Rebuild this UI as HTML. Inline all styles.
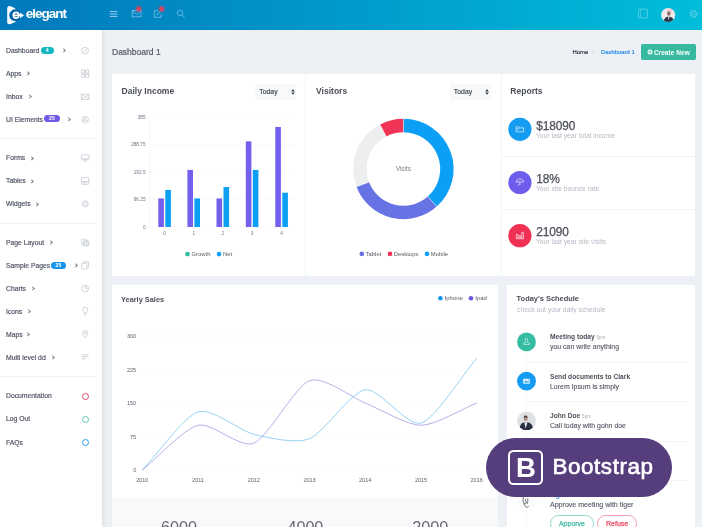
<!DOCTYPE html>
<html lang="en">
<head>
<meta charset="utf-8">
<title>Elegant Admin - Dashboard 1</title>
<style>
*{box-sizing:border-box;margin:0;padding:0}
html,body{width:702px;height:527px;overflow:hidden}
body{position:relative;background:#edf1f5;font-family:"Liberation Sans",sans-serif;color:#4f5467;font-size:7px;line-height:1}
.abs{position:absolute}
/* header */
#topbar{position:absolute;left:0;top:0;width:702px;height:30px;background:linear-gradient(to right,#0178bc 0%,#00bdda 100%);z-index:5}
#logo-text{position:absolute;left:25.7px;top:6.2px;font-size:13.5px;font-weight:bold;color:#fff;letter-spacing:-1px;line-height:16px}
/* sidebar */
#sidebar{position:absolute;left:0;top:30px;width:102px;height:497px;background:#fff;box-shadow:1px 0 4px rgba(90,100,115,.16);z-index:4}
.mi{position:absolute;left:6px;font-size:6.8px;line-height:10px;color:#4a4f60;white-space:nowrap;height:10px;-webkit-text-stroke:.15px #4a4f60}
.car{position:absolute;width:3.4px;height:3.4px;border-right:.8px solid #7d8594;border-top:.8px solid #7d8594;transform:rotate(45deg)}
.badge{position:absolute;font-size:5.2px;font-weight:bold;color:#fff;border-radius:3.6px;height:7.2px;line-height:7.2px;text-align:center}
.sdiv{position:absolute;left:0;width:96px;height:1px;background:#f0f2f5}
.sico{position:absolute;left:80px;width:10px;height:10px}
.ring{position:absolute;left:81.9px;width:7.2px;height:7.2px;border-radius:50%;border:1.4px solid #000}
/* content */
#ptitle{position:absolute;left:112px;top:46px;font-size:8.5px;line-height:12px;color:#565a64;-webkit-text-stroke:.2px #565a64}
.crumb{position:absolute;top:48px;font-size:5.9px;line-height:8px;-webkit-text-stroke:.2px}
#btn-new{position:absolute;left:640.7px;top:44px;width:55.2px;height:16.4px;border-radius:2px;background:#37b9a0;color:#fff;font-size:6.5px;font-weight:bold;line-height:17px;white-space:nowrap;padding-left:13.2px;letter-spacing:.05px}
#btn-new svg{left:6px;top:5.1px}
.ob{position:absolute;top:514.5px;height:17px;border-radius:8.5px;border:.8px solid;font-size:7px;line-height:16px;text-align:center;background:#fff;-webkit-text-stroke:.25px}
.card{position:absolute;background:#fff}
.ctitle{position:absolute;font-size:8.55px;font-weight:bold;color:#4b4f59;line-height:11px;white-space:nowrap}
.sel{position:absolute;width:41.2px;height:16px;background:#f8f9fa;border-radius:1.5px;font-size:6.9px;line-height:15.6px;color:#3c3f49;padding-left:4.2px;-webkit-text-stroke:.15px #3c3f49}
.sel svg{left:35.9px;top:5.3px}
.vdiv{position:absolute;width:1px;background:#f3f5f8}
.hdiv{position:absolute;height:1px;background:#f1f3f6}
svg{position:absolute;overflow:visible}
svg text{font-family:"Liberation Sans",sans-serif}
.rc{position:absolute;left:508px;width:23px;height:23px;border-radius:50%}
.rnum{position:absolute;left:536.2px;letter-spacing:-.1px;font-size:11.9px;line-height:14px;color:#4b4f59;-webkit-text-stroke:.25px #4b4f59;white-space:nowrap}
.rsub{position:absolute;left:536px;font-size:6.72px;line-height:8px;color:#b4bac4;white-space:nowrap}
.sc{position:absolute;left:517px;width:19px;height:19px;border-radius:50%}
.st{position:absolute;left:550px;font-size:6.65px;font-weight:bold;line-height:9px;color:#4c505a;white-space:nowrap}
.st small{font-size:4.6px;font-weight:normal;color:#a9afba}
.ss{position:absolute;left:550px;font-size:6.95px;line-height:9px;color:#555964;-webkit-text-stroke:.12px #555964;white-space:nowrap}
.big{position:absolute;top:518.1px;width:60px;text-align:center;font-size:16.2px;line-height:18px;color:#66686e;letter-spacing:-.05px}
#bs{position:absolute;left:486px;top:438px;width:186px;height:59px;border-radius:29.5px;background:#563d7c;z-index:9}
#bs .box{position:absolute;left:21.9px;top:12.4px;width:34.8px;height:34.4px;border:2.2px solid #fff;border-radius:5.5px;color:#fff;font-weight:bold;font-size:27.6px;line-height:32.2px;text-align:center;padding-left:1.4px}
#bs .txt{position:absolute;left:66.4px;top:15.5px;color:#fff;font-size:22.4px;line-height:25px;letter-spacing:.6px;white-space:nowrap;-webkit-text-stroke:.65px #fff}
</style>
</head>
<body>
<!-- HEADER -->
<div id="topbar">
  <svg style="left:0;top:0" width="702" height="30" viewBox="0 0 702 30">
    <!-- logo mark -->
    <circle cx="15.1" cy="15.2" r="5.8" fill="#04559b" fill-opacity=".55"/>
    <path d="M9.6,6 C8.2,6 7.2,6.9 7.2,8.4 L7.2,22 C7.2,23.6 8.4,24.5 9.9,24.2 C11.4,23.9 14.4,22.6 16.2,21 A5.9,5.9 0 1 1 16.2,9.4 C14.4,8 11.6,6.3 9.6,6 Z" fill="#fff"/>
    <path d="M18.5,17 C17.9,17.7 17.1,18 16.1,18 C14.5,18 13.4,16.8 13.4,15.2 C13.4,13.6 14.5,12.4 16.1,12.4 C17.6,12.4 18.7,13.4 18.8,14.9" fill="none" stroke="#fff" stroke-width="1.8" stroke-linecap="round"/>
    <path d="M14.2,15.4 L21,15.4" fill="none" stroke="#fff" stroke-width="1.6" stroke-linecap="round"/>
    <path d="M20.4,13.1 L23.7,15.4 L20.4,17.7 Z" fill="#fff" stroke="#fff" stroke-width=".5" stroke-linejoin="round"/>
    <!-- hamburger -->
    <path d="M109.8,11.6h7.6M109.8,14h7.6M109.8,16.4h7.6" stroke="#a8d8f2" stroke-width="0.9" fill="none"/>
    <!-- mail -->
    <rect x="132.2" y="10.6" width="8.8" height="6.2" fill="none" stroke="#7ec4e8" stroke-width="0.8"/>
    <path d="M132.4,10.9 L136.6,14.3 L140.8,10.9" fill="none" stroke="#7ec4e8" stroke-width="0.8"/>
    <circle cx="138.7" cy="8.9" r="3.5" fill="#e8405c" fill-opacity=".4"/><circle cx="138.7" cy="8.9" r="2.2" fill="#ea3c58" fill-opacity=".85"/>
    <!-- note -->
    <path d="M158.2,10.8 H154.3 V17.3 H161.2 V14" fill="none" stroke="#7ec4e8" stroke-width="0.8"/>
    <path d="M156.6,15.2 L160.6,10.8" fill="none" stroke="#7ec4e8" stroke-width="0.9"/>
    <circle cx="161.6" cy="8.9" r="3.5" fill="#e8405c" fill-opacity=".4"/><circle cx="161.6" cy="8.9" r="2.2" fill="#ea3c58" fill-opacity=".85"/>
    <!-- search -->
    <circle cx="180" cy="12.9" r="2.7" fill="none" stroke="#74bfe6" stroke-width="0.8"/>
    <path d="M182,15 L184.6,17.4" stroke="#74bfe6" stroke-width="0.9" fill="none"/>
    <!-- right: layout icon -->
    <rect x="638.4" y="9.2" width="9" height="8.6" rx="0.8" fill="none" stroke="#66d3e9" stroke-width="0.8"/>
    <path d="M640.6,9.2V17.8" stroke="#66d3e9" stroke-width="0.6" fill="none"/>
    <!-- avatar -->
    <clipPath id="av1"><circle cx="668.2" cy="15" r="7"/></clipPath>
    <circle cx="668.2" cy="15" r="7.1" fill="#f1e9ec"/>
    <g clip-path="url(#av1)">
      <ellipse cx="669.4" cy="11" rx="2.6" ry="2" fill="#f3c9cf"/>
      <ellipse cx="668.8" cy="13.6" rx="1.7" ry="2.2" fill="#8d6a66"/>
      <path d="M663.6,23 C663.8,18.4 665.6,16.6 668.6,16.4 C671.8,16.6 673.6,18.2 674,23 Z" fill="#2b3347"/>
      <path d="M668,16.6 L668.7,20.5 L669.6,16.6 Z" fill="#e9e9ee"/>
    </g>
    <!-- gear -->
    <circle cx="693.6" cy="13.9" r="3.4" fill="none" stroke="#5fd0e7" stroke-width="1.4" stroke-dasharray="1.5 1.17"/>
    <circle cx="693.6" cy="13.9" r="2.7" fill="none" stroke="#5fd0e7" stroke-width="0.7"/>
    <circle cx="693.6" cy="13.9" r="1.1" fill="none" stroke="#5fd0e7" stroke-width="0.6"/>
  </svg>
  <div id="logo-text">elegant</div>
</div>

<!-- SIDEBAR -->
<div id="sidebar">
  <div class="mi" style="top:16.1px">Dashboard</div><div class="badge" style="left:40.7px;top:16.6px;width:12.9px;background:#14b8c2">4</div><div class="car" style="left:61.5px;top:19.2px"></div>
  <div class="mi" style="top:39.0px">Apps</div><div class="car" style="left:25.9px;top:42.1px"></div>
  <div class="mi" style="top:61.9px">Inbox</div><div class="car" style="left:27.6px;top:65.0px"></div>
  <div class="mi" style="top:84.8px">UI Elements</div><div class="badge" style="left:44.2px;top:85.3px;width:15.6px;background:#6d5be6">25</div><div class="car" style="left:67.4px;top:87.9px"></div>
  <div class="mi" style="top:122.6px">Forms</div><div class="car" style="left:29.6px;top:126.7px"></div>
  <div class="mi" style="top:145.6px">Tables</div><div class="car" style="left:29.6px;top:149.6px"></div>
  <div class="mi" style="top:169.4px">Widgets</div><div class="car" style="left:35.0px;top:172.5px"></div>
  <div class="mi" style="top:208.2px">Page Layout</div><div class="car" style="left:48.7px;top:211.3px"></div>
  <div class="mi" style="top:231.1px">Sample Pages</div><div class="badge" style="left:51.0px;top:231.6px;width:15.0px;background:#1a94ea">25</div><div class="car" style="left:73.8px;top:234.2px"></div>
  <div class="mi" style="top:254.0px">Charts</div><div class="car" style="left:30.7px;top:257.1px"></div>
  <div class="mi" style="top:276.9px">Icons</div><div class="car" style="left:27.0px;top:280.0px"></div>
  <div class="mi" style="top:299.8px">Maps</div><div class="car" style="left:26.2px;top:302.9px"></div>
  <div class="mi" style="top:322.7px">Multi level dd</div><div class="car" style="left:50.7px;top:325.8px"></div>
  <div class="mi" style="top:360.7px">Documentation</div>
  <div class="mi" style="top:383.6px">Log Out</div>
  <div class="mi" style="top:407.5px">FAQs</div>
  <div class="sdiv" style="top:108.0px"></div>
  <div class="sdiv" style="top:192.5px"></div>
  <div class="sdiv" style="top:345.8px"></div>
  <div class="ring" style="top:362.7px;border-color:#e4486a"></div>
  <div class="ring" style="top:385.8px;border-color:#62c8b2"></div>
  <div class="ring" style="top:408.8px;border-color:#2b9ae8"></div>
<!--SBICONS--><svg style="left:0;top:-30px" width="102" height="527" viewBox="0 0 102 527">
<g transform="translate(85.2,50.6) scale(.88)" fill="none" stroke="#c2c7cf" stroke-width="0.85"><circle r="3.7"/><path d="M0,0.3 L1.6,-1.4"/><circle r="0.5" cy="0.3"/></g>
<g transform="translate(85.2,73.6) scale(.88)" fill="none" stroke="#c2c7cf" stroke-width="0.85"><rect x="-4" y="-4" width="3.4" height="3.4"/><rect x="0.6" y="-4" width="3.4" height="3.4"/><rect x="-4" y="0.6" width="3.4" height="3.4"/><rect x="0.6" y="0.6" width="3.4" height="3.4"/></g>
<g transform="translate(85.2,96.8) scale(.88)" fill="none" stroke="#c2c7cf" stroke-width="0.85"><rect x="-4.2" y="-3" width="8.4" height="6"/><path d="M-4,-2.8 L0,0.6 L4,-2.8 M-4,2.8 L-1.4,0 M4,2.8 L1.4,0"/></g>
<g transform="translate(85.2,119.6) scale(.88)" fill="none" stroke="#c2c7cf" stroke-width="0.85"><circle r="3.7"/><circle r="1.1"/><path d="M0,-3.7V-1.1M-3.2,1.9L-1,0.6M3.2,1.9L1,0.6"/></g>
<g transform="translate(85.2,157.8) scale(.88)" fill="none" stroke="#c2c7cf" stroke-width="0.85"><rect x="-4.2" y="-3.4" width="8.4" height="5.6" rx="0.5"/><path d="M-1.8,3.8H1.8M-3.2,1H3.2"/></g>
<g transform="translate(85.2,181) scale(.88)" fill="none" stroke="#c2c7cf" stroke-width="0.85"><rect x="-4" y="-3.8" width="8" height="7.6" rx="0.4"/><path d="M-4,0.6H4M-2.6,2.2H2.6"/></g>
<g transform="translate(85.2,203.8) scale(.88)" fill="none" stroke="#c2c7cf" stroke-width="0.85"><circle r="3.4" stroke-width="1.2" stroke-dasharray="1.4 1.27"/><circle r="2.9" stroke-width="0.6"/><circle r="1.1" stroke-width="0.6"/></g>
<g transform="translate(85.2,242.4) scale(.88)" fill="none" stroke="#c2c7cf" stroke-width="0.85"><rect x="-4" y="-3.6" width="6" height="5.6" rx="0.8"/><rect x="-2" y="-1.8" width="6" height="5.6" rx="0.8" fill="#e4e7ec"/></g>
<g transform="translate(85.2,265.4) scale(.88)" fill="none" stroke="#c2c7cf" stroke-width="0.85"><rect x="-2.2" y="-4.2" width="6" height="6.4" rx="0.6"/><rect x="-4" y="-2.4" width="6" height="6.6" rx="0.6" fill="#fff"/></g>
<g transform="translate(85.2,288.6) scale(.88)" fill="none" stroke="#c2c7cf" stroke-width="0.85"><circle r="3.8"/><path d="M0.3,-3.8V-0.3H3.8"/></g>
<g transform="translate(85.2,311.2) scale(.88)" fill="none" stroke="#c2c7cf" stroke-width="0.85"><path d="M-1.4,2 C-1.4,0.4 -2.8,-0.2 -2.8,-1.8 A2.8,2.8 0 0 1 2.8,-1.8 C2.8,-0.2 1.4,0.4 1.4,2 Z M-1.2,3.2H1.2M-0.8,4.3H0.8"/></g>
<g transform="translate(85.2,334.2) scale(.88)" fill="none" stroke="#c2c7cf" stroke-width="0.85"><path d="M0,4.4 C-1.6,1.8 -2.8,0.2 -2.8,-1.4 A2.8,2.8 0 0 1 2.8,-1.4 C2.8,0.2 1.6,1.8 0,4.4 Z"/><circle cy="-1.4" r="1"/></g>
<g transform="translate(85.2,357) scale(.88)" fill="none" stroke="#c2c7cf" stroke-width="0.85"><path d="M-4,-2.4H4M-4,-0.2H3M-4,2H0.4" stroke-width="0.9"/></g>
</svg><!--/SBICONS-->
</div>

<!-- PAGE TITLE -->
<div id="ptitle">Dashboard 1</div>
<div class="crumb" style="left:572.5px;color:#3a3f4d">Home</div>
<div class="crumb" style="left:601px;color:#2a8fe8">Dashboard 1</div>
<div id="btn-new"><svg width="6" height="6" viewBox="0 0 6 6"><circle cx="3" cy="3" r="2.5" fill="#fff"/><path d="M3,1.6V4.4M1.6,3H4.4" stroke="#37b9a0" stroke-width=".9" fill="none"/></svg>Create New</div>

<!-- CARD ROW 1 -->
<div class="card" id="c1" style="left:112px;top:74px;width:583px;height:201.7px"></div>
<div class="vdiv" style="left:305px;top:74px;height:202px"></div>
<div class="vdiv" style="left:501px;top:74px;height:202px"></div>
<div class="ctitle" style="left:121.5px;top:86.3px">Daily Income</div>
<div class="sel" style="left:255px;top:83.7px">Today<svg width="4" height="6" viewBox="0 0 4 6"><path d="M0.2,2.4 L2,0.1 L3.8,2.4 Z M0.2,3.4 L2,5.7 L3.8,3.4 Z" fill="#3c3f49"/></svg></div>
<div class="ctitle" style="left:316px;top:86.3px">Visitors</div>
<div class="sel" style="left:449.6px;top:83.7px">Today<svg width="4" height="6" viewBox="0 0 4 6"><path d="M0.2,2.4 L2,0.1 L3.8,2.4 Z M0.2,3.4 L2,5.7 L3.8,3.4 Z" fill="#3c3f49"/></svg></div>
<div class="ctitle" style="left:510.3px;top:85.6px">Reports</div>
<div class="hdiv" style="left:501px;top:155.5px;width:194px"></div>
<div class="hdiv" style="left:501px;top:208.7px;width:194px"></div>

<div class="rnum" style="top:119px">$18090</div>
<div class="rsub" style="top:132px">Your last year total income</div>
<div class="rnum" style="top:172px">18%</div>
<div class="rsub" style="top:185px">Your site bounce rate</div>
<div class="rnum" style="top:225px">21090</div>
<div class="rsub" style="top:238px">Your last year site visits</div>

<!-- CARD 2 -->
<div class="card" id="c2" style="left:112px;top:285px;width:386px;height:213px"></div>
<div class="card" id="c2f" style="left:112px;top:498px;width:386px;height:29px;background:#f7f9fb"></div>
<div class="ctitle" style="left:121px;top:294px;font-size:7.4px">Yearly Sales</div>
<div class="big" style="left:149px">6000</div>
<div class="big" style="left:275.4px">4000</div>
<div class="big" style="left:400.2px">2000</div>

<!-- CARD 3 -->
<div class="card" id="c3" style="left:507px;top:285px;width:188px;height:242px"></div>
<div class="ctitle" style="left:516.6px;top:293px;font-size:7.45px">Today's Schedule</div>
<div class="rsub" style="left:517px;top:306px;font-size:6.75px">check out your daily schedule</div>
<div class="st" style="top:332px">Meeting today <small>5pm</small></div>
<div class="ss" style="top:342.4px">you can write anything</div>
<div class="hdiv" style="left:528px;top:362px;width:159px"></div>
<div class="st" style="top:372px">Send documents to Clark</div>
<div class="ss" style="top:382px">Lorem Ipsum is simply</div>
<div class="hdiv" style="left:528px;top:401px;width:159px"></div>
<div class="st" style="top:411px">John Doe <small>5pm</small></div>
<div class="ss" style="top:421px">Call today with gohn doe</div>
<div class="hdiv" style="left:528px;top:440.9px;width:159px"></div>
<div class="st" style="top:451px">Go to the Doctor <small>5pm</small></div>
<div class="ss" style="top:461px">Contrary to popular belief</div>
<div class="hdiv" style="left:528px;top:480.3px;width:159px"></div>
<div class="st" style="top:490px;color:#1896ea">Tiger Sroff <small>5pm</small></div>
<div class="ss" style="top:499.8px;font-size:7.05px">Approve meeting with tiger</div>
<div class="ob" style="left:550.4px;width:43.2px;color:#3fbba3;border-color:#8fd8c9">Apporve</div>
<div class="ob" style="left:597.4px;width:39.4px;color:#ee4a68;border-color:#f59bad">Refuse</div>

<!--BARS-->
<svg id="bars" style="left:0;top:0" width="702" height="527" viewBox="0 0 702 527">
<line x1="149.5" y1="227.0" x2="296" y2="227.0" stroke="#f5f6f8" stroke-width="0.6"/>
<text x="145.5" y="228.6" font-size="4.7" fill="#6f7582" text-anchor="end">0</text>
<line x1="149.5" y1="199.5" x2="296" y2="199.5" stroke="#f5f6f8" stroke-width="0.6"/>
<text x="145.5" y="201.1" font-size="4.7" fill="#6f7582" text-anchor="end">96.25</text>
<line x1="149.5" y1="172.0" x2="296" y2="172.0" stroke="#f5f6f8" stroke-width="0.6"/>
<text x="145.5" y="173.6" font-size="4.7" fill="#6f7582" text-anchor="end">192.5</text>
<line x1="149.5" y1="144.5" x2="296" y2="144.5" stroke="#f5f6f8" stroke-width="0.6"/>
<text x="145.5" y="146.1" font-size="4.7" fill="#6f7582" text-anchor="end">288.75</text>
<line x1="149.5" y1="117.0" x2="296" y2="117.0" stroke="#f5f6f8" stroke-width="0.6"/>
<text x="145.5" y="118.6" font-size="4.7" fill="#6f7582" text-anchor="end">385</text>
<line x1="149.5" y1="117" x2="149.5" y2="227" stroke="#f3f4f7" stroke-width="0.6"/>
<rect x="158.3" y="198.4" width="5.6" height="28.6" fill="#7460ee"/>
<rect x="165.3" y="189.9" width="5.6" height="37.1" fill="#0b9ff5"/>
<text x="164.6" y="235.3" font-size="4.7" fill="#6f7582" text-anchor="middle">0</text>
<rect x="187.4" y="169.9" width="5.6" height="57.1" fill="#7460ee"/>
<rect x="194.4" y="198.4" width="5.6" height="28.6" fill="#0b9ff5"/>
<text x="193.7" y="235.3" font-size="4.7" fill="#6f7582" text-anchor="middle">1</text>
<rect x="216.5" y="198.4" width="5.6" height="28.6" fill="#7460ee"/>
<rect x="223.5" y="187.0" width="5.6" height="40.0" fill="#0b9ff5"/>
<text x="222.8" y="235.3" font-size="4.7" fill="#6f7582" text-anchor="middle">2</text>
<rect x="245.8" y="141.3" width="5.6" height="85.7" fill="#7460ee"/>
<rect x="252.8" y="169.9" width="5.6" height="57.1" fill="#0b9ff5"/>
<text x="252.1" y="235.3" font-size="4.7" fill="#6f7582" text-anchor="middle">3</text>
<rect x="275.3" y="127.0" width="5.6" height="100.0" fill="#7460ee"/>
<rect x="282.3" y="192.7" width="5.6" height="34.3" fill="#0b9ff5"/>
<text x="281.6" y="235.3" font-size="4.7" fill="#6f7582" text-anchor="middle">4</text>
<circle cx="187.5" cy="254.1" r="2.3" fill="#2fbfa0"/>
<text x="191.5" y="256.2" font-size="5.9" fill="#585c67">Growth</text>
<circle cx="219" cy="254.1" r="2.3" fill="#0b9ff5"/>
<text x="223" y="256.2" font-size="5.9" fill="#585c67">Net</text>
</svg>
<!--/BARS-->
<!--DONUT-->
<svg id="donut" style="left:0;top:0" width="702" height="527" viewBox="0 0 702 527">
<path d="M403.40,125.50A43.5,43.5 0 0 1 432.25,201.56" fill="none" stroke="#0b9ff5" stroke-width="13.4"/>
<path d="M432.25,201.56A43.5,43.5 0 0 1 362.73,184.43" fill="none" stroke="#6772e5" stroke-width="13.4"/>
<path d="M362.73,184.43A43.5,43.5 0 0 1 383.18,130.48" fill="none" stroke="#eceef0" stroke-width="13.4"/>
<path d="M383.18,130.48A43.5,43.5 0 0 1 403.40,125.50" fill="none" stroke="#f03356" stroke-width="13.4"/>
<path d="M427.80,196.55L436.69,206.58M368.99,182.05L356.46,186.80M386.30,136.42L380.07,124.55M403.40,132.20L403.40,118.80" stroke="#fff" stroke-width="0.45" fill="none"/>
<text x="403.4" y="171.2" font-size="6.5" fill="#7f838c" text-anchor="middle">Visits</text>
<circle cx="361.8" cy="253.9" r="2.3" fill="#6772e5"/>
<text x="365.6" y="256" font-size="5.9" fill="#585c67">Tablet</text>
<circle cx="390" cy="253.9" r="2.3" fill="#f03356"/>
<text x="393.8" y="256" font-size="5.9" fill="#585c67">Desktops</text>
<circle cx="427" cy="253.9" r="2.3" fill="#0b9ff5"/>
<text x="430.8" y="256" font-size="5.9" fill="#585c67">Mobile</text>
</svg>
<!--/DONUT-->
<!--LINES-->
<svg id="lines" style="left:0;top:0" width="702" height="527" viewBox="0 0 702 527">
<line x1="142.3" y1="470.0" x2="476.7" y2="470.0" stroke="#f9fafb" stroke-width="0.6"/>
<text x="136.2" y="472.0" font-size="5.5" fill="#5a5e69" text-anchor="end">0</text>
<line x1="142.3" y1="436.5" x2="476.7" y2="436.5" stroke="#f9fafb" stroke-width="0.6"/>
<text x="136.2" y="438.5" font-size="5.5" fill="#5a5e69" text-anchor="end">75</text>
<line x1="142.3" y1="403.0" x2="476.7" y2="403.0" stroke="#f9fafb" stroke-width="0.6"/>
<text x="136.2" y="405.0" font-size="5.5" fill="#5a5e69" text-anchor="end">150</text>
<line x1="142.3" y1="369.5" x2="476.7" y2="369.5" stroke="#f9fafb" stroke-width="0.6"/>
<text x="136.2" y="371.5" font-size="5.5" fill="#5a5e69" text-anchor="end">225</text>
<line x1="142.3" y1="336.0" x2="476.7" y2="336.0" stroke="#f9fafb" stroke-width="0.6"/>
<text x="136.2" y="338.0" font-size="5.5" fill="#5a5e69" text-anchor="end">300</text>
<path d="M142.3,470.0C156.2,458.8,184.1,428.7,198.0,425.3C212.0,422.0,239.8,448.8,253.8,443.2C267.7,437.6,295.6,385.7,309.5,380.7C323.4,375.6,351.3,397.4,365.2,403.0C379.2,408.6,407.0,425.3,421.0,425.3C434.9,425.3,462.8,408.6,476.7,403.0" fill="none" stroke="#8f86dc" stroke-width="0.65"/>
<path d="M142.3,470.0C156.2,455.5,184.1,416.4,198.0,411.9C212.0,407.5,239.8,430.9,253.8,434.3C267.7,437.6,295.6,444.3,309.5,438.7C323.4,433.2,351.3,391.6,365.2,389.6C379.2,387.6,407.0,427.0,421.0,423.1C434.9,419.2,462.8,374.5,476.7,358.3" fill="none" stroke="#5fbaec" stroke-width="0.65"/>
<text x="142.3" y="482.4" font-size="5.5" fill="#5a5e69" text-anchor="middle">2010</text>
<text x="198.0" y="482.4" font-size="5.5" fill="#5a5e69" text-anchor="middle">2011</text>
<text x="253.8" y="482.4" font-size="5.5" fill="#5a5e69" text-anchor="middle">2012</text>
<text x="309.5" y="482.4" font-size="5.5" fill="#5a5e69" text-anchor="middle">2013</text>
<text x="365.2" y="482.4" font-size="5.5" fill="#5a5e69" text-anchor="middle">2014</text>
<text x="421.0" y="482.4" font-size="5.5" fill="#5a5e69" text-anchor="middle">2015</text>
<text x="476.7" y="482.4" font-size="5.5" fill="#5a5e69" text-anchor="middle">2016</text>
<circle cx="440.4" cy="298.3" r="2.3" fill="#1196ea"/>
<text x="444.6" y="300.2" font-size="6" fill="#585c67">Iphone</text>
<circle cx="471" cy="298.3" r="2.3" fill="#6c58dc"/>
<text x="475.2" y="300.2" font-size="6" fill="#585c67">Ipad</text>
</svg>
<!--/LINES-->
<!--OVERLAY-->
<svg id="ov" style="left:0;top:0" width="702" height="527" viewBox="0 0 702 527">
  <!-- report circles -->
  <circle cx="519.9" cy="129.3" r="11.6" fill="#149cf2"/>
  <g fill="none" stroke="#d6ecfd" stroke-width="0.8" stroke-linejoin="round">
    <path d="M516.2,127.3 V131.8 H523.6 V127.9 H519.6 L518.8,126.8 H516.2 Z"/>
    <path d="M516.4,128.9 H519.4"/>
  </g>
  <circle cx="519.9" cy="182.5" r="11.6" fill="#6e5cec"/>
  <g fill="none" stroke="#e1dcfb" stroke-width="0.8" stroke-linecap="round">
    <path d="M516.1,181.6 A3.9,3.6 0 0 1 523.7,181.6 Z"/>
    <path d="M519.9,181.8 V184.6 A0.9,0.9 0 0 1 518.2,184.6"/>
  </g>
  <circle cx="519.9" cy="235.7" r="11.6" fill="#f03055"/>
  <g fill="none" stroke="#fcd9e0" stroke-width="0.8" stroke-linejoin="round">
    <path d="M516.4,238.6 V234.4 H518 V238.6 M519.1,238.6 V235.8 H520.7 V238.6 M521.8,238.6 V232.4 H523.4 V238.6"/>
    <path d="M516,238.7 H523.8"/>
  </g>
  <!-- schedule timeline -->
  <path d="M526.3,342 V527" stroke="#f3f5f8" stroke-width="1" fill="none"/>
  <circle cx="526.5" cy="341.9" r="9.4" fill="#35bda2"/>
  <g fill="none" stroke="#d3f2ec" stroke-width="0.7" stroke-linejoin="round">
    <path d="M525.2,340 A1.3,1.5 0 1 1 527.8,340 C527.8,341.2 527.3,341.6 527.3,342.2 L529.6,343.4 V344.4 H523.4 V343.4 L525.7,342.2 C525.7,341.6 525.2,341.2 525.2,340 Z"/>
  </g>
  <circle cx="526.5" cy="381.2" r="9.4" fill="#149cf2"/>
  <rect x="523.2" y="378.7" width="6.6" height="5" rx="0.5" fill="#e4f3fe"/>
  <path d="M523.8,382.6 L525.6,380.6 L526.8,381.8 L528,380.9 L529.3,382.6 Z" fill="#149cf2"/>
  <circle cx="528.4" cy="379.9" r="0.5" fill="#149cf2"/>
  <clipPath id="av2"><circle cx="526.5" cy="420.8" r="9.3"/></clipPath>
  <circle cx="526.5" cy="420.8" r="9.4" fill="#dfe1e5"/>
  <g clip-path="url(#av2)">
    <ellipse cx="525.6" cy="418.4" rx="2" ry="2.6" fill="#b48f86"/>
    <path d="M523.8,417 C524,415.2 527,415 527.6,417.2 L527.4,418 C526.6,417 524.8,417 524,418 Z" fill="#4a3b38"/>
    <path d="M519.6,431 C519.4,426 520.8,423.4 523.6,422.6 L528.2,422.6 C531.8,423.4 533,426 533,431 Z" fill="#2a3040"/>
    <path d="M524.4,422.4 L525.6,428.6 L527.4,422.4 Z" fill="#eef0f3"/>
  </g>
  <clipPath id="av3"><circle cx="526.5" cy="499.6" r="9.3"/></clipPath>
  <circle cx="526.5" cy="499.6" r="9.4" fill="#fbfbfc"/>
  <g clip-path="url(#av3)" fill="none" stroke="#3a3a40" stroke-width="0.7">
    <path d="M523.4,497 C522.4,500 523.6,503 524.6,505.4 C525.6,507.2 527.4,507.8 528.6,506.4 M525,499 L526.6,502.6 L524.2,503.8 M527.6,498.4 C528.2,500.4 527.8,502.4 527,504"/>
  </g>
  <!-- breadcrumb chevron -->
  <path d="M592.2,50.2 L593.8,51.9 L592.2,53.6" fill="none" stroke="#c3c8d0" stroke-width="0.6"/>
</svg>
<!--/OVERLAY-->
<!-- BOOTSTRAP BADGE -->
<div id="bs"><div class="box">B</div><div class="txt">Bootstrap</div></div>
</body>
</html>
